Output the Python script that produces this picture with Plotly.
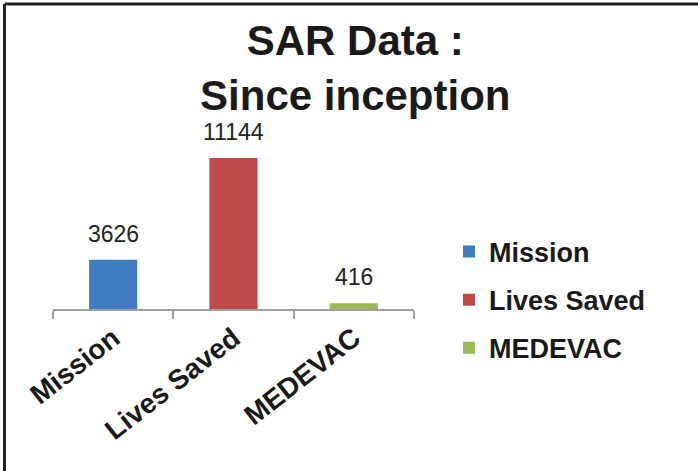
import plotly.graph_objects as go

categories = ["Mission", "Lives Saved", "MEDEVAC"]
values = [3626, 11144, 416]
colors = ["#3F7BC1", "#C0494A", "#9BBB59"]
title_lines = ["SAR Data :", "Since inception"]

FONT = "Liberation Sans, Arial, sans-serif"
L, R_PX, AX_Y, TOP = 53, 414, 309, 130
W, H = 698, 471

fig = go.Figure()
for cat, val, col in zip(categories, values, colors):
    fig.add_trace(go.Bar(
        x=[cat], y=[val], name=cat, width=0.4,
        marker=dict(color=col, line=dict(width=0)),
        legendgroup=cat, hoverinfo="x+y",
    ))
    fig.add_annotation(
        x=cat, y=val, text=str(val), showarrow=False,
        yanchor="bottom", yshift=11,
        font=dict(family=FONT, size=23, color="#222222"),
    )

# frame lines (top and left only)
fx = lambda px: (px - L) / (R_PX - L)
fy = lambda py: (AX_Y - py) / (AX_Y - TOP)
fig.add_shape(type="line", xref="paper", yref="paper",
              x0=fx(4.5), x1=fx(W + 5), y0=fy(4), y1=fy(4),
              line=dict(color="#222222", width=3))
fig.add_shape(type="line", xref="paper", yref="paper",
              x0=fx(4.5), x1=fx(4.5), y0=fy(4), y1=fy(H + 5),
              line=dict(color="#222222", width=3))

fig.update_layout(
    width=W, height=H,
    margin=dict(l=L, r=W - R_PX, t=TOP, b=H - AX_Y, autoexpand=False),
    paper_bgcolor="white", plot_bgcolor="white",
    barmode="overlay",
    title=dict(
        text="<br>".join(title_lines),
        x=0.509, xref="container", xanchor="center",
        y=1 - 55 / H, yref="container", yanchor="top",
        font=dict(family=FONT, size=42, color="#1a1a1a", weight="bold"),
    ),
    showlegend=True,
    legend=dict(
        x=fx(449), y=fy(300), xanchor="left", yanchor="middle",
        font=dict(family=FONT, size=27, color="#1a1a1a", weight="bold"),
        traceorder="grouped", tracegroupgap=10,
        bgcolor="rgba(0,0,0,0)",
    ),
    xaxis=dict(
        categoryorder="array", categoryarray=categories,
        showline=True, linecolor="#A0A0A0", linewidth=1.5,
        ticks="outside", tickson="boundaries", ticklen=8,
        tickcolor="#A0A0A0", tickwidth=1.5,
        tickangle=-38,
        tickfont=dict(family=FONT, size=28, color="#1a1a1a", weight="bold"),
        showgrid=False, zeroline=False,
    ),
    yaxis=dict(visible=False, range=[0, 13210], showgrid=False, zeroline=False),
)

fig.write_html(
    "out.html",
    config={"displayModeBar": False},
    post_script="document.body.style.margin='0';document.body.style.overflow='hidden';",
)
